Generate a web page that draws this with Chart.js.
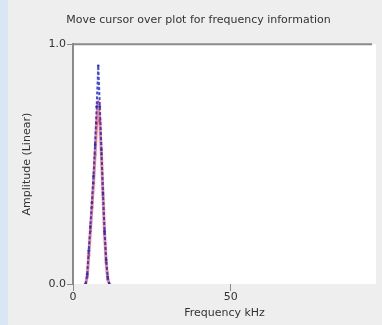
<!DOCTYPE html>
<html>
<head>
<meta charset="utf-8">
<script src="https://cdn.jsdelivr.net/npm/chart.js@4"></script>
<style>
  html, body { margin: 0; padding: 0; background: #eeeeee; }
  #wrap { position: relative; width: 382px; height: 325px; overflow: hidden; }
  #strip { position: absolute; left: 0; top: 0; width: 8px; height: 325px; background: #d9e6f4; }
  #chart { position: absolute; left: 0; top: 0; }
</style>
</head>
<body>
<div id="wrap">
  <div id="strip"></div>
  <canvas id="chart" width="382" height="325"></canvas>
</div>
<script>
/* spectrum view: two traces around the ~8 kHz peak */

const freqs = [4.0, 4.5, 5.0, 5.5, 6.0, 6.5, 7.0, 7.5, 8.0, 8.5, 9.0, 9.5, 10.0, 10.5, 11.0, 11.5];
const blueAmp = [0.0, 0.04, 0.14, 0.24, 0.34, 0.45, 0.58, 0.74, 0.91, 0.74, 0.56, 0.38, 0.22, 0.1, 0.03, 0.0];
const redAmp = [0.0, 0.03, 0.12, 0.22, 0.32, 0.42, 0.54, 0.67, 0.76, 0.68, 0.54, 0.37, 0.21, 0.09, 0.02, 0.0];
const xTicks = [0, 50];
const yTicks = [0, 1];

const FONT = { family: "DejaVu Sans, Verdana, sans-serif", size: 11, weight: "normal" };
const TEXT = "#333333";
const AXIS = "#8a8a8a";

const toPts = (ys) => freqs.map((f, i) => ({ x: f, y: ys[i] }));

// white plot area plus the grey line along its top edge
const plotFrame = {
  id: "plotFrame",
  beforeDraw(chart) {
    const { ctx, chartArea: a } = chart;
    ctx.save();
    ctx.fillStyle = "#ffffff";
    ctx.fillRect(a.left, a.top, a.right - a.left, a.bottom - a.top);
    ctx.restore();
  },
  afterDraw(chart) {
    const { ctx, chartArea: a } = chart;
    ctx.save();
    ctx.strokeStyle = AXIS;
    ctx.lineWidth = 2;
    ctx.beginPath();
    ctx.moveTo(a.left, a.top);
    ctx.lineTo(a.right - 4, a.top);
    ctx.stroke();
    ctx.restore();
  },
};

new Chart(document.getElementById("chart"), {
  type: "line",
  data: {
    datasets: [
      {
        data: toPts(blueAmp),
        borderColor: "rgba(30,40,230,0.85)",
        borderWidth: 2,
        borderDash: [3, 2],
        pointRadius: 1.3,
        pointBackgroundColor: "#2030d0",
        pointBorderWidth: 0,
        tension: 0,
      },
      {
        data: toPts(redAmp),
        borderColor: "rgba(235,50,50,0.6)",
        borderWidth: 3,
        pointRadius: 1.3,
        pointBackgroundColor: "rgba(220,40,60,0.8)",
        pointBorderWidth: 0,
        tension: 0,
      },
    ],
  },
  options: {
    responsive: false,
    animation: false,
    layout: { padding: { left: 21, right: 6, top: 0, bottom: 0 } },
    plugins: {
      legend: { display: false },
      tooltip: { enabled: false },
      title: {
        display: true,
        text: "Move cursor over plot for frequency information",
        color: TEXT,
        font: FONT,
        padding: { top: 14, bottom: 17 },
      },
    },
    scales: {
      x: {
        type: "linear",
        min: 0,
        max: 96,
        afterBuildTicks: (s) => { s.ticks = xTicks.map((v) => ({ value: v })); },
        afterFit: (s) => { s.height = 41; },
        grid: { drawOnChartArea: false, drawTicks: true, tickLength: 7, color: AXIS, lineWidth: 1 },
        border: { display: false },
        ticks: { color: TEXT, font: FONT, padding: 0, maxRotation: 0 },
        title: { display: true, text: "Frequency kHz", color: TEXT, font: FONT, padding: { top: 0, bottom: 5 } },
      },
      y: {
        type: "linear",
        min: 0,
        max: 1,
        afterBuildTicks: (s) => { s.ticks = yTicks.map((v) => ({ value: v })); },
        afterFit: (s) => { s.width = 52; },
        grid: { drawOnChartArea: false, drawTicks: true, tickLength: 6, color: AXIS, lineWidth: 1 },
        border: { display: true, color: AXIS, width: 2 },
        ticks: { color: TEXT, font: FONT, padding: 1, callback: (v) => v.toFixed(1) },
        title: { display: true, text: "Amplitude (Linear)", color: TEXT, font: FONT, padding: { top: 0, bottom: 0 } },
      },
    },
  },
  plugins: [plotFrame],
});
</script>
</body>
</html>
